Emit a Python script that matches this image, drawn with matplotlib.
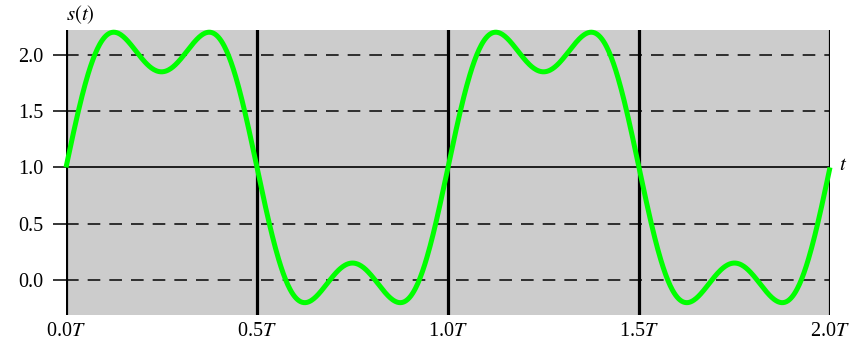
import numpy as np
import matplotlib
matplotlib.use("Agg")
import matplotlib.pyplot as plt

# Fourier-Reihe eines Rechtecksignals (Offset + zwei ungerade Harmonische)
offset = 1.0
harmonics = [1, 3]
amplitudes = [4 / np.pi, 4 / (3 * np.pi)]
period = 1.0
t_max = 2.0

x_ticks = [0.0, 0.5, 1.0, 1.5, 2.0]
x_tick_labels = ["0.0$T$", "0.5$T$", "1.0$T$", "1.5$T$", "2.0$T$"]
y_ticks = [0.0, 0.5, 1.0, 1.5, 2.0]
y_dashed = [0.0, 0.5, 1.5, 2.0]

plt.rcParams["font.family"] = ["Liberation Serif", "DejaVu Serif"]
plt.rcParams["mathtext.fontset"] = "stix"

t = np.linspace(0, t_max, 1000)
s = offset + sum(a * np.sin(2 * np.pi * k * t / period) for k, a in zip(harmonics, amplitudes))

fig = plt.figure(figsize=(8.57, 3.44), dpi=100)
ax = fig.add_axes([66 / 857, 29 / 344, (830 - 66) / 857, (315 - 30) / 344])
ax.set_facecolor("#cccccc")

for y in y_dashed:
    ax.axhline(y, color="#222222", lw=1.3, ls=(0, (7, 5)), zorder=1)
ax.axhline(offset, color="black", lw=1.2, zorder=1)
for x in x_ticks:
    ax.axvline(x, color="black", lw=2.3, zorder=2)

ax.plot(t, s, color="#00ff00", lw=3.6, zorder=3, clip_on=False, solid_capstyle="butt")

ax.set_xlim(0, t_max)
ax.set_ylim(-0.31, 2.22)
for sp in ax.spines.values():
    sp.set_visible(False)

ax.set_yticks(y_ticks)
ax.set_yticklabels([f"{v:.1f}" for v in y_ticks], fontsize=14.5)
ax.tick_params(axis="y", length=9.5, width=1.1, pad=7, color="black")
ax.set_xticks(x_ticks)
ax.set_xticklabels(x_tick_labels, fontsize=14.5)
ax.tick_params(axis="x", length=0, pad=5)

fig.text(80 / 857, 1 - 15 / 344, "$s(t)$", fontsize=15, ha="center", va="center")
fig.text(843 / 857, 1 - 166 / 344, "$t$", fontsize=15, ha="center", va="center")

fig.savefig("out.png", dpi=100)
